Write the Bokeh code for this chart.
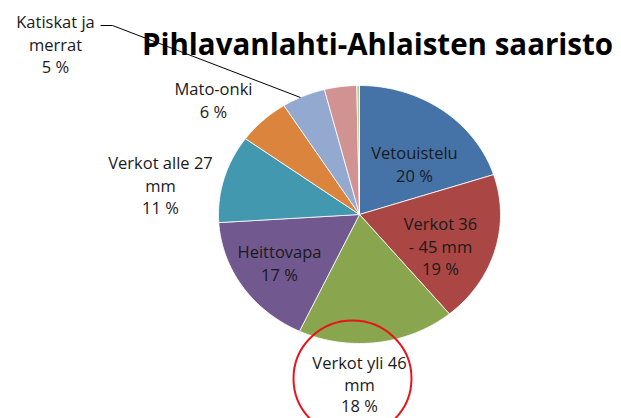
import numpy as np
from bokeh.plotting import figure
from bokeh.models import Range1d, ColumnDataSource
from bokeh.embed import file_html
from bokeh.resources import INLINE
from bokeh.core.properties import value

# ---- data ----
categories = ["Vetouistelu", "Verkot 36 - 45 mm", "Verkot yli 46 mm", "Heittovapa",
              "Verkot alle 27 mm", "Mato-onki", "Katiskat ja merrat", "Muut", "Muut 2"]
shares = [20, 19, 18, 17, 11, 6, 5, 3.7, 0.3]
colors = ["#4572A7", "#AA4643", "#89A54E", "#71588F", "#4198AF",
          "#DB843D", "#93A9CF", "#D19392", "#B9CD96"]
label_text = [["Vetouistelu"], ["Verkot 36", "- 45 mm"], ["Verkot yli 46", "mm"],
              ["Heittovapa"], ["Verkot alle 27", "mm"], ["Mato-onki"],
              ["Katiskat ja", "merrat"], None, None]
title = "Pihlavanlahti-Ahlaisten saaristo"

# ---- layout (pixel-like coordinates, y grows downward) ----
W, H = 621, 418
CX, CY, RX, RY = 359, 214, 141, 129
label_pos = [(414, 152), (440, 223), (359, 362), (279, 251), (160, 162), (213, 88),
             (55, 21), None, None]
label_step = [22.5, 22.5, 21.5, 22.5, 22.5, 22.5, 22.5, None, None]
FONT = "Open Sans"
FS = "16.5px"

p = figure(width=W, height=H, output_backend="svg", toolbar_location=None,
           x_range=Range1d(0, W), y_range=Range1d(H, 0), min_border=0)
p.axis.visible = False
p.grid.visible = False
p.outline_line_color = None
p.background_fill_color = "white"
p.border_fill_color = "white"

total = float(sum(shares))
cum = np.concatenate([[0.0], np.cumsum(shares) / total])
xs, ys = [], []
for i in range(len(shares)):
    a0, a1 = 2 * np.pi * cum[i], 2 * np.pi * cum[i + 1]
    n = max(3, int(200 * (cum[i + 1] - cum[i])) + 2)
    t = np.linspace(a0, a1, n)
    px = np.concatenate([[CX], CX + RX * np.sin(t)])
    py = np.concatenate([[CY], CY - RY * np.cos(t)])
    xs.append(list(px))
    ys.append(list(py))

src = ColumnDataSource(dict(xs=xs, ys=ys, color=colors, name=categories))
p.patches("xs", "ys", source=src, fill_color="color", line_color="white", line_width=0.8)

# labels
tx, ty, tt = [], [], []
for i, lines in enumerate(label_text):
    if lines is None:
        continue
    pct = f"{round(shares[i] / total * 100)} %"
    x0, y0 = label_pos[i]
    for k, s in enumerate(lines + [pct]):
        tx.append(x0)
        ty.append(y0 + k * label_step[i])
        tt.append(s)
p.text(x=tx, y=ty, text=tt, text_font=value(FONT), text_font_size=FS,
       text_align="center", text_baseline="middle", text_color="#1a1a1a")

# leader line for Katiskat ja merrat
p.line(x=[100, 112, 300], y=[25, 25, 97], line_color="black", line_width=1)

# title
p.text(x=[377], y=[43], text=[title], text_font=value(FONT), text_font_size="29.5px",
       text_font_style="bold", text_align="center", text_baseline="alphabetic",
       text_color="black")

# red highlight ellipse
p.ellipse(x=[352], y=[378], width=[118], height=[116], fill_color=None,
          line_color="#E8141B", line_width=2)

open("out.html", "w").write(file_html(p, INLINE))
